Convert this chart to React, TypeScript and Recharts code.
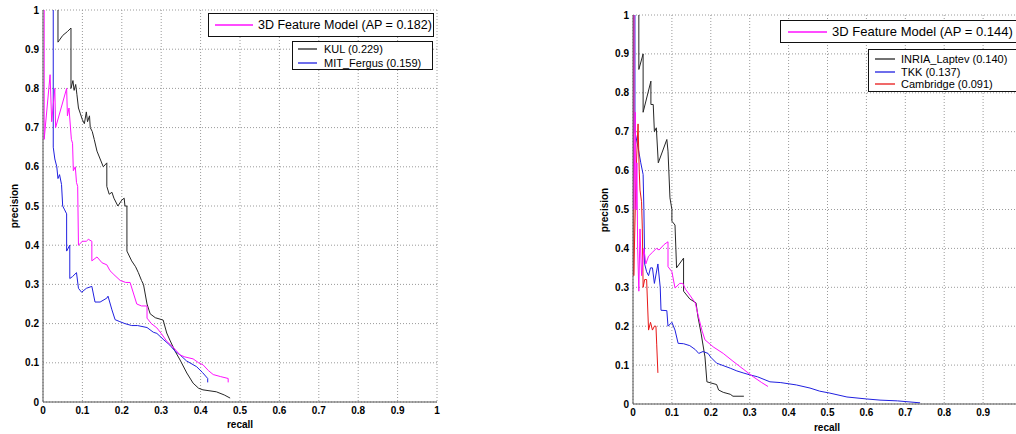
import React from 'react';
import { LineChart, Line, XAxis, YAxis, CartesianGrid } from 'recharts';

// [recall, precision] pairs
const ours3dLeft: [number, number][] = [
  [0.003, 1], [0.003, 0.67], [0.018, 0.835], [0.022, 0.715], [0.03, 0.8], [0.032, 0.7],
  [0.06, 0.8], [0.062, 0.73], [0.066, 0.75], [0.072, 0.67], [0.075, 0.66], [0.077, 0.59],
  [0.082, 0.6], [0.085, 0.56], [0.088, 0.55], [0.09, 0.4], [0.1, 0.41], [0.11, 0.41],
  [0.115, 0.415], [0.124, 0.41], [0.124, 0.36], [0.137, 0.37], [0.15, 0.355], [0.162, 0.35],
  [0.17, 0.335], [0.18, 0.325], [0.196, 0.31], [0.21, 0.305], [0.221, 0.305], [0.238, 0.25],
  [0.25, 0.245], [0.264, 0.245], [0.264, 0.214], [0.275, 0.2], [0.289, 0.189], [0.3, 0.175],
  [0.314, 0.155], [0.33, 0.14], [0.348, 0.12], [0.36, 0.115], [0.381, 0.11], [0.395, 0.1],
  [0.406, 0.095], [0.42, 0.08], [0.432, 0.07], [0.45, 0.065], [0.47, 0.06], [0.47, 0.05],
];

const kul: [number, number][] = [
  [0.038, 1], [0.038, 0.918], [0.05, 0.935], [0.062, 0.945], [0.071, 0.954], [0.071, 0.8],
  [0.076, 0.82], [0.079, 0.795], [0.083, 0.81], [0.086, 0.785], [0.09, 0.75], [0.095, 0.735],
  [0.1, 0.72], [0.105, 0.71], [0.11, 0.74], [0.113, 0.715], [0.118, 0.73], [0.12, 0.7],
  [0.125, 0.69], [0.13, 0.67], [0.137, 0.64], [0.145, 0.62], [0.153, 0.6], [0.162, 0.61],
  [0.162, 0.55], [0.168, 0.53], [0.175, 0.535], [0.18, 0.52], [0.19, 0.5], [0.2, 0.515],
  [0.206, 0.52], [0.208, 0.5], [0.213, 0.5], [0.213, 0.385], [0.225, 0.36], [0.235, 0.345],
  [0.242, 0.33], [0.25, 0.31], [0.255, 0.3], [0.264, 0.25], [0.272, 0.225], [0.285, 0.215],
  [0.305, 0.209], [0.314, 0.176], [0.322, 0.158], [0.335, 0.13], [0.348, 0.107], [0.365, 0.074],
  [0.381, 0.048], [0.395, 0.035], [0.406, 0.031], [0.44, 0.026], [0.46, 0.018], [0.475, 0.01],
];

const mitFergus: [number, number][] = [
  [0.026, 1], [0.026, 0.65], [0.03, 0.62], [0.035, 0.6], [0.038, 0.57], [0.042, 0.58],
  [0.047, 0.555], [0.05, 0.5], [0.055, 0.49], [0.06, 0.48], [0.06, 0.385], [0.068, 0.4],
  [0.068, 0.315], [0.075, 0.32], [0.085, 0.33], [0.09, 0.29], [0.098, 0.28], [0.11, 0.29],
  [0.124, 0.295], [0.132, 0.255], [0.145, 0.255], [0.162, 0.265], [0.165, 0.27], [0.175, 0.235],
  [0.183, 0.21], [0.195, 0.205], [0.208, 0.2], [0.225, 0.195], [0.24, 0.195], [0.264, 0.19],
  [0.28, 0.178], [0.289, 0.175], [0.305, 0.16], [0.322, 0.145], [0.335, 0.13], [0.348, 0.12],
  [0.364, 0.105], [0.39, 0.09], [0.405, 0.075], [0.418, 0.06], [0.418, 0.05],
];

const ours3dRight: [number, number][] = [
  [0.002, 1], [0.002, 0.5], [0.006, 0.75], [0.008, 0.5], [0.01, 0.62], [0.012, 0.4],
  [0.015, 0.29], [0.018, 0.45], [0.022, 0.33], [0.028, 0.4], [0.033, 0.36], [0.04, 0.38],
  [0.05, 0.39], [0.06, 0.4], [0.067, 0.396], [0.08, 0.41], [0.09, 0.417], [0.09, 0.353],
  [0.1, 0.34], [0.108, 0.298], [0.12, 0.31], [0.128, 0.31], [0.135, 0.295], [0.146, 0.28],
  [0.16, 0.26], [0.167, 0.23], [0.177, 0.19], [0.185, 0.165], [0.206, 0.147], [0.232, 0.13],
  [0.257, 0.11], [0.283, 0.09], [0.309, 0.07], [0.331, 0.055], [0.347, 0.045],
];

const inriaLaptev: [number, number][] = [
  [0.015, 1], [0.015, 0.86], [0.026, 0.9], [0.026, 0.75], [0.046, 0.83], [0.046, 0.77],
  [0.052, 0.77], [0.055, 0.7], [0.06, 0.71], [0.065, 0.62], [0.087, 0.68], [0.09, 0.65],
  [0.095, 0.53], [0.1, 0.5], [0.1, 0.47], [0.108, 0.46], [0.112, 0.35], [0.13, 0.375],
  [0.13, 0.29], [0.146, 0.27], [0.162, 0.26], [0.167, 0.224], [0.175, 0.182], [0.185, 0.121],
  [0.19, 0.057], [0.215, 0.05], [0.22, 0.036], [0.232, 0.03], [0.25, 0.025], [0.257, 0.02],
  [0.285, 0.02],
];

const tkk: [number, number][] = [
  [0.005, 1], [0.005, 0.7], [0.013, 0.66], [0.02, 0.62], [0.026, 0.59], [0.028, 0.5],
  [0.03, 0.36], [0.035, 0.34], [0.04, 0.33], [0.045, 0.35], [0.05, 0.35], [0.055, 0.31],
  [0.064, 0.36], [0.07, 0.3], [0.072, 0.241], [0.087, 0.24], [0.09, 0.2], [0.1, 0.21],
  [0.108, 0.19], [0.116, 0.156], [0.13, 0.155], [0.146, 0.15], [0.16, 0.14], [0.169, 0.13],
  [0.18, 0.135], [0.193, 0.13], [0.2, 0.12], [0.215, 0.105], [0.25, 0.092], [0.267, 0.085],
  [0.283, 0.08], [0.3, 0.075], [0.32, 0.07], [0.352, 0.057], [0.38, 0.055], [0.42, 0.049],
  [0.455, 0.041], [0.48, 0.033], [0.506, 0.028], [0.55, 0.018], [0.6, 0.013], [0.635, 0.01],
  [0.68, 0.008], [0.738, 0.003],
];

const cambridge: [number, number][] = [
  [0.002, 1], [0.002, 0.33], [0.008, 0.6], [0.013, 0.72], [0.016, 0.6], [0.018, 0.55],
  [0.022, 0.52], [0.024, 0.45], [0.026, 0.3], [0.03, 0.32], [0.035, 0.32], [0.04, 0.19],
  [0.045, 0.21], [0.05, 0.19], [0.055, 0.2], [0.059, 0.2], [0.061, 0.152], [0.064, 0.08],
];

const ticks = [0, 0.1, 0.2, 0.3, 0.4, 0.5, 0.6, 0.7, 0.8, 0.9, 1];

const BLACK = '#262626';
const BLUE = '#2020e0';
const MAGENTA = '#ff10ff';
const RED = '#e81818';
const FONT = '"Liberation Sans", Arial, Helvetica, sans-serif';

const toRows = (pts: [number, number][]) => pts.map(([r, p]) => ({ r, p }));

interface Series {
  name: string;
  color: string;
  points: [number, number][];
}

interface PanelProps {
  left: number;
  top: number;
  width: number;
  height: number;
  plotTop: number;
  axisHeight: number;
  right: number;
  hideLastX?: boolean;
  series: Series[];
}

const tickStyle = { fontSize: 10, fontWeight: 'bold', fill: '#000', fontFamily: FONT };

const Panel: React.FC<PanelProps> = ({ left, top, width, height, plotTop, axisHeight, right, hideLastX, series }) => (
  <div style={{ position: 'absolute', left, top }}>
    <LineChart width={width} height={height} margin={{ top: plotTop, right, bottom: 0, left: 8 }}>
      <CartesianGrid stroke="#9a9a9a" strokeDasharray="1 2" />
      <XAxis
        dataKey="r"
        type="number"
        domain={[0, 1]}
        ticks={ticks}
        allowDataOverflow
        height={axisHeight}
        tickLine={false}
        tickSize={3}
        tickMargin={2}
        axisLine={{ stroke: '#555' }}
        tick={tickStyle}
        tickFormatter={(v: number) => (hideLastX && v === 1 ? '' : String(v))}
        interval={0}
      />
      <YAxis
        dataKey="p"
        type="number"
        domain={[0, 1]}
        ticks={ticks}
        allowDataOverflow
        width={35}
        tickLine={false}
        tickSize={2}
        tickMargin={2}
        axisLine={{ stroke: '#555' }}
        tick={tickStyle}
        interval={0}
      />
      {series.map((s) => (
        <Line
          key={s.name}
          data={toRows(s.points)}
          dataKey="p"
          type="linear"
          stroke={s.color}
          strokeWidth={1}
          dot={false}
          activeDot={false}
          isAnimationActive={false}
        />
      ))}
    </LineChart>
  </div>
);

interface LegendBoxProps {
  left: number;
  top: number;
  width: number;
  height: number;
  padTop: number;
  rowHeight: number;
  lineX: number;
  lineW: number;
  gap: number;
  fontSize: number;
  items: { label: string; color: string }[];
}

const LegendBox: React.FC<LegendBoxProps> = ({
  left, top, width, height, padTop, rowHeight, lineX, lineW, gap, fontSize, items
}) => (
  <div
    style={{
      position: 'absolute',
      left,
      top,
      width,
      height,
      boxSizing: 'border-box',
      border: '1px solid #111',
      background: '#fff',
      paddingTop: padTop,
      fontFamily: FONT,
      fontSize,
      color: '#000',
    }}
  >
    {items.map((it) => (
      <div key={it.label} style={{ display: 'flex', alignItems: 'center', height: rowHeight, whiteSpace: 'nowrap' }}>
        <svg width={lineW} height={4} style={{ flex: 'none', marginLeft: lineX, display: 'block' }}>
          <line x1={0} y1={2} x2={lineW} y2={2} stroke={it.color} strokeWidth={1.3} />
        </svg>
        <span style={{ marginLeft: gap, lineHeight: `${rowHeight}px` }}>{it.label}</span>
      </div>
    ))}
  </div>
);

const axisTitle: React.CSSProperties = {
  position: 'absolute',
  fontFamily: FONT,
  fontSize: 10,
  fontWeight: 'bold',
  color: '#000',
  whiteSpace: 'nowrap',
  transform: 'translate(-50%, -50%)',
};

export default function App() {
  return (
    <div style={{ position: 'absolute', left: 0, top: 0, width: 1016, height: 434, overflow: 'hidden', background: '#fff' }}>
      <Panel
        left={0}
        top={0}
        width={460}
        height={434}
        plotTop={10}
        axisHeight={32}
        right={23}
        series={[
          { name: 'KUL', color: BLACK, points: kul },
          { name: 'MIT', color: BLUE, points: mitFergus },
          { name: 'ours', color: MAGENTA, points: ours3dLeft },
        ]}
      />
      <Panel
        left={590}
        top={0}
        width={452}
        height={434}
        plotTop={15}
        axisHeight={30}
        right={20}
        hideLastX
        series={[
          { name: 'INRIA', color: BLACK, points: inriaLaptev },
          { name: 'TKK', color: BLUE, points: tkk },
          { name: 'Cambridge', color: RED, points: cambridge },
          { name: 'ours', color: MAGENTA, points: ours3dRight },
        ]}
      />

      <div style={{ ...axisTitle, left: 14, top: 206, transform: 'translate(-50%, -50%) rotate(-90deg)' }}>precision</div>
      <div style={{ ...axisTitle, left: 240, top: 424 }}>recall</div>
      <div style={{ ...axisTitle, left: 604, top: 210, transform: 'translate(-50%, -50%) rotate(-90deg)' }}>precision</div>
      <div style={{ ...axisTitle, left: 827, top: 427 }}>recall</div>

      <LegendBox
        left={208} top={13} width={226} height={24} padTop={0} rowHeight={22}
        lineX={6} lineW={38} gap={5} fontSize={12.5}
        items={[{ label: '3D Feature Model (AP = 0.182)', color: MAGENTA }]}
      />
      <LegendBox
        left={292} top={41} width={141} height={29} padTop={0} rowHeight={14}
        lineX={5} lineW={19} gap={7} fontSize={11}
        items={[
          { label: 'KUL (0.229)', color: BLACK },
          { label: 'MIT_Fergus (0.159)', color: BLUE },
        ]}
      />
      <LegendBox
        left={780} top={20} width={260} height={23} padTop={0} rowHeight={21}
        lineX={7} lineW={39} gap={5} fontSize={13}
        items={[{ label: '3D Feature Model (AP = 0.144)', color: MAGENTA }]}
      />
      <LegendBox
        left={868} top={49} width={170} height={43} padTop={3} rowHeight={12.5}
        lineX={6} lineW={20} gap={6} fontSize={11}
        items={[
          { label: 'INRIA_Laptev (0.140)', color: BLACK },
          { label: 'TKK (0.137)', color: BLUE },
          { label: 'Cambridge (0.091)', color: RED },
        ]}
      />
    </div>
  );
}
